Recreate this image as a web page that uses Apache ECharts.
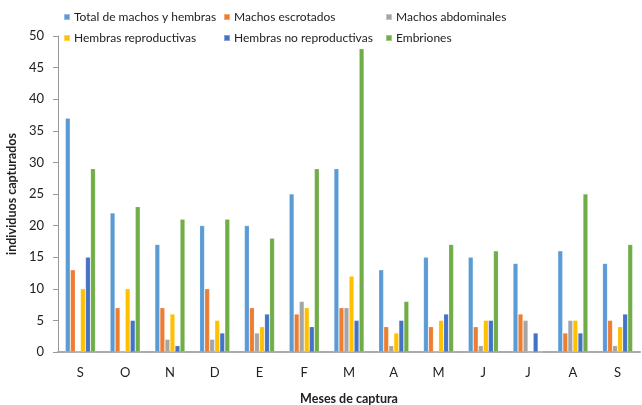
<!DOCTYPE html>
<html><head><meta charset="utf-8">
<script src="https://cdn.jsdelivr.net/npm/echarts@6/dist/echarts.min.js"></script>
<style>html,body{margin:0;padding:0;background:#fff}#c{width:642px;height:405px}</style>
</head><body><div id="c"></div>
<script>
const months = ['S','O','N','D','E','F','M','A','M','J','J','A','S'];
const seriesNames = ['Total de machos y hembras','Machos escrotados','Machos abdominales','Hembras reproductivas','Hembras no reproductivas','Embriones'];
const total      = [37,22,17,20,20,25,29,13,15,15,14,16,14];
const escrotados = [13,7,7,10,7,6,7,4,4,4,6,3,5];
const abdominales= [0,0,2,2,3,8,7,1,0,1,5,5,1];
const hembrasRep = [10,10,6,5,4,7,12,3,5,5,0,5,4];
const hembrasNoRep=[15,5,1,3,6,4,5,5,6,5,3,3,6];
const embriones  = [29,23,21,21,18,29,48,8,17,16,0,25,17];
const yTicks = {min:0, max:50, interval:5};

const values = [total, escrotados, abdominales, hembrasRep, hembrasNoRep, embriones];
const colors = ['#5B9BD5','#ED7D31','#A5A5A5','#FFC000','#4472C4','#70AD47'];
const legendPos = [[63,11],[223,11],[385,11],[63,32],[223,32],[385,32]];

const chart = echarts.init(document.getElementById('c'));
chart.setOption({
  animation:false,
  color: colors,
  textStyle:{fontFamily:'Lato'},
  legend: seriesNames.map((n,i)=>({
    data:[n], left:legendPos[i][0], top:legendPos[i][1],
    itemWidth:6, itemHeight:6, icon:'rect', padding:0,
    textStyle:{fontSize:12, color:'#222', padding:[0,0,0,-1]}
  })),
  grid:{left:58, right:2, top:36, bottom:53, outerBoundsMode:'none', containLabel:false},
  xAxis:{
    type:'category', data:months,
    axisLine:{lineStyle:{color:'#aaa', width:2}},
    axisTick:{show:false},
    axisLabel:{fontSize:13, color:'#222', margin:14},
    name:'Meses de captura', nameLocation:'middle', nameGap:40,
    nameTextStyle:{fontSize:12.5, fontWeight:'bold', color:'#222'}
  },
  yAxis:{
    type:'value', min:yTicks.min, max:yTicks.max, interval:yTicks.interval,
    splitLine:{show:false},
    axisLine:{show:true, lineStyle:{color:'#999'}},
    axisTick:{show:true, length:5, lineStyle:{color:'#999'}},
    axisLabel:{fontSize:13, color:'#222', margin:14},
    name:'individuos capturados', nameLocation:'middle', nameGap:33,
    nameTextStyle:{fontSize:12.5, fontWeight:'bold', color:'#222'}
  },
  series: seriesNames.map((n,i)=>({
    name:n, type:'bar', data:values[i],
    barGap:'5%', barCategoryGap:'33%',
    itemStyle:{borderColor:'rgba(255,255,255,0.35)', borderWidth:0.5}
  }))
});
</script></body></html>
